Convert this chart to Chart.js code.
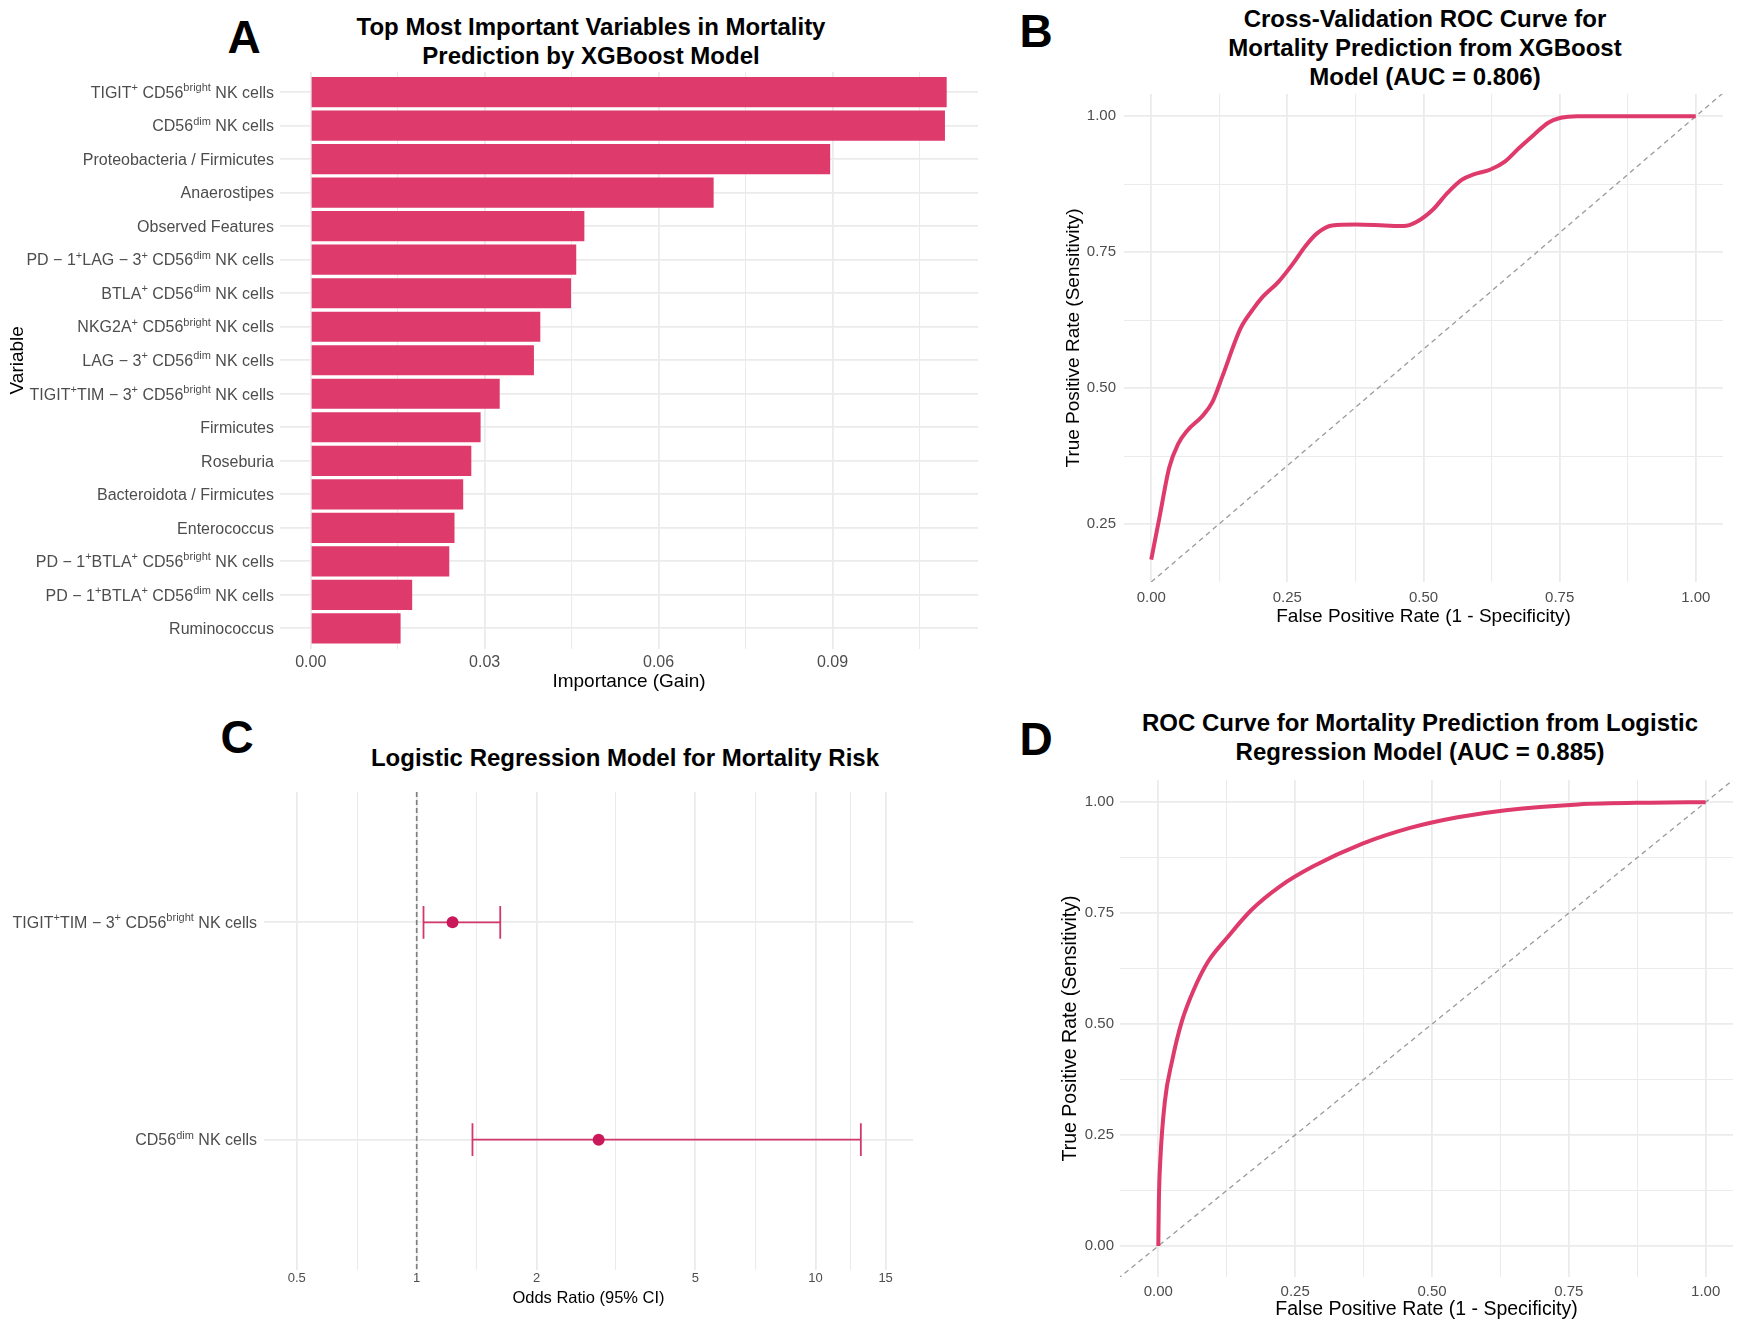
<!DOCTYPE html>
<html>
<head>
<meta charset="utf-8">
<script src="https://cdn.jsdelivr.net/npm/chart.js@4.4.1/dist/chart.umd.min.js"></script>
<style>
  body { margin: 0; background: #fff; }
  #page { position: relative; width: 1755px; height: 1329px; overflow: hidden; background: #fff;
          font-family: "Liberation Sans", Arial, Helvetica, sans-serif; color: #000; }
  canvas { position: absolute; }
  .tag { position: absolute; font-size: 46px; font-weight: bold; line-height: 1; transform: translate(-50%, -50%); }
  .ttl { position: absolute; font-size: 24px; font-weight: bold; line-height: 29px; text-align: center;
         white-space: nowrap; transform: translate(-50%, -50%); }
</style>
</head>
<body>
<div id="page">
  <div class="tag" style="left:244px; top:37px">A</div>
  <div class="ttl" style="left:591px; top:41px">Top Most Important Variables in Mortality<br>Prediction by XGBoost Model</div>
  <div class="tag" style="left:1036px; top:31px">B</div>
  <div class="ttl" style="left:1425px; top:47px">Cross-Validation ROC Curve for<br>Mortality Prediction from XGBoost<br>Model (AUC = 0.806)</div>
  <div class="tag" style="left:237px; top:737px">C</div>
  <div class="ttl" style="left:625px; top:757px">Logistic Regression Model for Mortality Risk</div>
  <div class="tag" style="left:1036px; top:739px">D</div>
  <div class="ttl" style="left:1420px; top:737px">ROC Curve for Mortality Prediction from Logistic<br>Regression Model (AUC = 0.885)</div>

  <canvas id="importance-chart" width="978" height="621" style="left:0px; top:72px"></canvas>
  <canvas id="roc-xgb-chart" width="661" height="534" style="left:1062px; top:94px"></canvas>
  <canvas id="odds-chart" width="913" height="516" style="left:0px; top:792px"></canvas>
  <canvas id="roc-logit-chart" width="674" height="541" style="left:1059px; top:780px"></canvas>
</div>
<script>
// A: importance (gain) of the top variables, XGBoost
const variables = [
    'TIGIT^{+} CD56^{bright} NK cells',
    'CD56^{dim} NK cells',
    'Proteobacteria / Firmicutes',
    'Anaerostipes',
    'Observed Features',
    'PD \u2212 1^{+}LAG \u2212 3^{+} CD56^{dim} NK cells',
    'BTLA^{+} CD56^{dim} NK cells',
    'NKG2A^{+} CD56^{bright} NK cells',
    'LAG \u2212 3^{+} CD56^{dim} NK cells',
    'TIGIT^{+}TIM \u2212 3^{+} CD56^{bright} NK cells',
    'Firmicutes',
    'Roseburia',
    'Bacteroidota / Firmicutes',
    'Enterococcus',
    'PD \u2212 1^{+}BTLA^{+} CD56^{bright} NK cells',
    'PD \u2212 1^{+}BTLA^{+} CD56^{dim} NK cells',
    'Ruminococcus'
];
const gain = [0.1097, 0.1094, 0.0896, 0.0695, 0.0472, 0.0458, 0.0449, 0.0396, 0.0385, 0.0326,
              0.0293, 0.0277, 0.0263, 0.0248, 0.0239, 0.0175, 0.0155];
const gainTicks = [0, 0.03, 0.06, 0.09];
const gainMinor = [0.015, 0.045, 0.075, 0.105];

// B: cross-validation ROC curve, XGBoost
const fprXgb = [0.000, 0.015, 0.033, 0.049, 0.066, 0.094, 0.112, 0.130, 0.164, 0.186, 0.203, 0.234,
                0.261, 0.283, 0.305, 0.332, 0.376, 0.429, 0.464, 0.486, 0.517, 0.544, 0.570, 0.592,
                0.623, 0.650, 0.676, 0.703, 0.729, 0.752, 0.782, 1.000];
const tprXgb = [0.185, 0.262, 0.354, 0.397, 0.422, 0.449, 0.474, 0.520, 0.610, 0.644, 0.666, 0.696,
                0.730, 0.761, 0.785, 0.799, 0.801, 0.799, 0.798, 0.805, 0.828, 0.859, 0.883, 0.893,
                0.902, 0.917, 0.942, 0.966, 0.988, 0.997, 1.000, 1.000];
const refXgbX = [0, 1.06];
const refXgbY = [0.144, 1.051];

// C: logistic regression odds ratios (95% CI)
const orVariables = ['TIGIT^{+}TIM \u2212 3^{+} CD56^{bright} NK cells', 'CD56^{dim} NK cells'];
const orEstimate = [1.23, 2.86];
const orLower = [1.04, 1.38];
const orUpper = [1.62, 13.0];
const orTicks = [0.5, 1, 2, 5, 10, 15];
const orMinor = [0.71, 1.41, 3.16, 7.07, 12.25];

// D: ROC curve, logistic regression
const fprLogit = [0.000, 0.001, 0.0035, 0.012, 0.025, 0.043, 0.065, 0.091, 0.126, 0.170, 0.223, 0.284,
                  0.372, 0.460, 0.547, 0.635, 0.767, 0.898, 1.000];
const tprLogit = [0.000, 0.100, 0.190, 0.326, 0.416, 0.506, 0.578, 0.641, 0.695, 0.757, 0.811, 0.856,
                  0.906, 0.942, 0.966, 0.982, 0.995, 0.999, 1.000];
const refLogitX = [-0.1, 1.1];
const refLogitY = [-0.1, 1.1];

const rocTicks = [0, 0.25, 0.5, 0.75, 1];
const rocMinor = [0.125, 0.375, 0.625, 0.875];

const FONT = '"Liberation Sans", Arial, Helvetica, sans-serif';
const GRID = '#EBEBEB';
const PINK = '#DE3A6B';

Chart.defaults.font.family = FONT;
Chart.defaults.color = '#4D4D4D';
Chart.defaults.animation = false;
Chart.defaults.events = [];
Chart.defaults.responsive = false;
Chart.defaults.plugins.legend.display = false;
Chart.defaults.plugins.tooltip.enabled = false;

// axis with ggplot-like major/minor grid lines
function gridAxis(min, max, majors, minors, fmt) {
    return {
        min: min,
        max: max,
        border: { display: false },
        grid: {
            color: GRID,
            drawTicks: false,
            lineWidth: c => (c.tick && majors.includes(c.tick.value)) ? 1.8 : 1
        },
        afterBuildTicks: s => {
            s.ticks = majors.concat(minors)
                .filter(v => v >= min && v <= max)
                .sort((a, b) => a - b)
                .map(v => ({ value: v }));
        },
        ticks: {
            autoSkip: false,
            maxRotation: 0,
            color: '#4D4D4D',
            callback: v => majors.includes(v) ? fmt(v) : ''
        }
    };
}

// fixed axis thickness, no extra label padding pushed into the plot area
function fixSize(prop, size) {
    return s => {
        s[prop] = size;
        s.paddingTop = 0;
        s.paddingBottom = 0;
        s.paddingLeft = 0;
        s.paddingRight = 0;
    };
}

function axisTitle(text, size, padding) {
    return { display: true, text: text, color: '#000', font: { size: size }, padding: padding };
}

// category labels with superscripts, e.g. CD56^{dim}
function drawRichLabel(ctx, text, right, y, size) {
    const parts = [];
    const re = /\^\{([^}]*)\}/g;
    let last = 0, m;
    while ((m = re.exec(text))) {
        if (m.index > last) parts.push({ t: text.slice(last, m.index), sup: false });
        parts.push({ t: m[1], sup: true });
        last = re.lastIndex;
    }
    if (last < text.length) parts.push({ t: text.slice(last), sup: false });

    const base = size + 'px ' + FONT;
    const small = Math.round(size * 0.66) + 'px ' + FONT;
    let total = 0;
    parts.forEach(p => {
        ctx.font = p.sup ? small : base;
        p.w = ctx.measureText(p.t).width;
        total += p.w;
    });
    let x = right - total;
    const baseline = y + size * 0.36;
    ctx.textAlign = 'left';
    ctx.textBaseline = 'alphabetic';
    parts.forEach(p => {
        ctx.font = p.sup ? small : base;
        ctx.fillText(p.t, x, p.sup ? baseline - size * 0.42 : baseline);
        x += p.w;
    });
}

const richLabels = {
    id: 'richLabels',
    afterDraw(chart, args, opts) {
        const ctx = chart.ctx;
        const scale = chart.scales.y;
        ctx.save();
        ctx.fillStyle = '#4D4D4D';
        opts.labels.forEach((lab, i) => {
            drawRichLabel(ctx, lab, chart.chartArea.left - opts.gap, scale.getPixelForValue(i), opts.size);
        });
        ctx.restore();
    }
};

const noPad = { autoPadding: false, padding: 0 };

// Panel A: horizontal bars
const aX = gridAxis(-0.0053, 0.1151, gainTicks, gainMinor, v => v.toFixed(2));
aX.position = 'bottom';
aX.beginAtZero = false;
aX.ticks.font = { size: 16 };
aX.ticks.padding = 4;
aX.title = axisTitle('Importance (Gain)', 19, 0);
aX.afterFit = fixSize('height', 44.5);

const rowsA = variables.map((_, i) => i);
const aY = gridAxis(-0.6, variables.length - 0.4, rowsA, [], String);
aY.type = 'linear';
aY.position = 'left';
aY.reverse = true;
aY.offset = false;
aY.grid.offset = false;
aY.ticks.display = false;
aY.title = axisTitle('Variable', 19, { top: 6, bottom: 0 });
aY.afterFit = fixSize('width', 280);

const importanceChart = new Chart(document.getElementById('importance-chart'), {
    type: 'bar',
    data: {
        datasets: [{
            label: 'Importance (Gain)',
            data: gain.map((g, i) => ({ x: g, y: i })),
            backgroundColor: PINK,
            borderWidth: 0,
            categoryPercentage: 1,
            barPercentage: 0.9
        }]
    },
    options: {
        indexAxis: 'y',
        layout: noPad,
        scales: { x: aX, y: aY },
        plugins: { richLabels: { labels: variables, gap: 6, size: 16 } }
    },
    plugins: [richLabels]
});

// Panel B: ROC, XGBoost
const bX = gridAxis(-0.05, 1.05, rocTicks, rocMinor, v => v.toFixed(2));
bX.ticks.font = { size: 15 };
bX.ticks.padding = 7;
bX.title = axisTitle('False Positive Rate (1 - Specificity)', 19, 0);
bX.afterFit = fixSize('height', 46);
const bY = gridAxis(0.144, 1.0407, rocTicks, rocMinor, v => v.toFixed(2));
bY.ticks.font = { size: 15 };
bY.ticks.padding = 8;
bY.title = axisTitle('True Positive Rate (Sensitivity)', 19, { top: 0, bottom: 0 });
bY.afterFit = fixSize('width', 62);

const rocXgbChart = new Chart(document.getElementById('roc-xgb-chart'), {
    type: 'scatter',
    data: {
        datasets: [{
            label: 'ROC',
            data: fprXgb.map((x, i) => ({ x: x, y: tprXgb[i] })),
            showLine: true,
            borderColor: PINK,
            borderWidth: 4,
            pointRadius: 0,
            cubicInterpolationMode: 'monotone',
            order: 0
        }, {
            label: 'Reference',
            data: refXgbX.map((x, i) => ({ x: x, y: refXgbY[i] })),
            showLine: true,
            borderColor: '#9A9A9A',
            borderWidth: 1.3,
            borderDash: [5, 4],
            pointRadius: 0,
            order: 1
        }]
    },
    options: {
        layout: noPad,
        scales: { x: bX, y: bY }
    }
});

// Panel C: odds ratios, log scale
const CAP = 0.075;
const cX = gridAxis(0.414, 17.57, orTicks, orMinor, v => String(v));
cX.type = 'logarithmic';
cX.ticks.font = { size: 13 };
cX.ticks.padding = 1;
cX.title = axisTitle('Odds Ratio (95% CI)', 16.5, 0);
cX.afterFit = fixSize('height', 38);

const rowsC = orVariables.map((_, i) => i);
const cY = gridAxis(-0.6, orVariables.length - 0.4, rowsC, [], String);
cY.reverse = true;
cY.ticks.display = false;
cY.afterFit = fixSize('width', 264);

const oddsChart = new Chart(document.getElementById('odds-chart'), {
    type: 'scatter',
    data: {
        datasets: [{
            label: 'Odds ratio',
            data: orEstimate.map((v, i) => ({ x: v, y: i })),
            pointRadius: 6,
            pointBackgroundColor: '#C9195B',
            pointBorderWidth: 0,
            order: 0
        }, {
            label: '95% CI',
            data: rowsC.flatMap(i => [
                { x: orLower[i], y: i }, { x: orUpper[i], y: i }, { x: orUpper[i], y: null }
            ]),
            showLine: true,
            borderColor: '#D2386B',
            borderWidth: 1.6,
            pointRadius: 0,
            order: 1
        }, {
            label: 'CI caps',
            data: rowsC.flatMap(i => [
                { x: orLower[i], y: i - CAP }, { x: orLower[i], y: i + CAP }, { x: orLower[i], y: null },
                { x: orUpper[i], y: i - CAP }, { x: orUpper[i], y: i + CAP }, { x: orUpper[i], y: null }
            ]),
            showLine: true,
            borderColor: '#D2386B',
            borderWidth: 1.8,
            pointRadius: 0,
            order: 1
        }, {
            label: 'OR = 1',
            data: [{ x: 1, y: -0.6 }, { x: 1, y: orVariables.length - 0.4 }],
            showLine: true,
            borderColor: '#808080',
            borderWidth: 1.7,
            borderDash: [5, 3],
            pointRadius: 0,
            order: 2
        }]
    },
    options: {
        layout: noPad,
        scales: { x: cX, y: cY },
        plugins: { richLabels: { labels: orVariables, gap: 7, size: 16 } }
    },
    plugins: [richLabels]
});

// Panel D: ROC, logistic regression
const dX = gridAxis(-0.07, 1.05, rocTicks, rocMinor, v => v.toFixed(2));
dX.ticks.font = { size: 15 };
dX.ticks.padding = 6;
dX.title = axisTitle('False Positive Rate (1 - Specificity)', 19.5, 0);
dX.afterFit = fixSize('height', 44);
const dY = gridAxis(-0.07, 1.05, rocTicks, rocMinor, v => v.toFixed(2));
dY.ticks.font = { size: 15 };
dY.ticks.padding = 6;
dY.title = axisTitle('True Positive Rate (Sensitivity)', 19.5, { top: 0, bottom: 0 });
dY.afterFit = fixSize('width', 61);

const rocLogitChart = new Chart(document.getElementById('roc-logit-chart'), {
    type: 'scatter',
    data: {
        datasets: [{
            label: 'ROC',
            data: fprLogit.map((x, i) => ({ x: x, y: tprLogit[i] })),
            showLine: true,
            borderColor: PINK,
            borderWidth: 4,
            pointRadius: 0,
            cubicInterpolationMode: 'monotone',
            order: 0
        }, {
            label: 'Reference',
            data: refLogitX.map((x, i) => ({ x: x, y: refLogitY[i] })),
            showLine: true,
            borderColor: '#9A9A9A',
            borderWidth: 1.3,
            borderDash: [5, 4],
            pointRadius: 0,
            order: 1
        }]
    },
    options: {
        layout: noPad,
        scales: { x: dX, y: dY }
    }
});
</script>
</body>
</html>
